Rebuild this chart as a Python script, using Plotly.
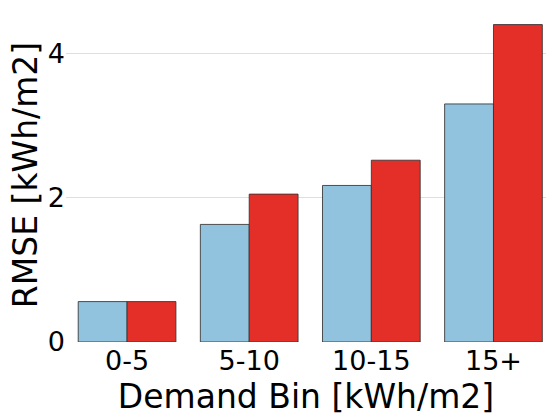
import plotly.graph_objects as go

categories = ["0-5", "5-10", "10-15", "15+"]
series_a = [0.56, 1.63, 2.17, 3.30]
series_b = [0.56, 2.05, 2.52, 4.40]
y_ticks = [0, 2, 4]

fig = go.Figure()
fig.add_trace(go.Bar(x=categories, y=series_a, name="A",
                     marker=dict(color="#92c3de", line=dict(color="rgba(50,50,50,0.85)", width=1))))
fig.add_trace(go.Bar(x=categories, y=series_b, name="B",
                     marker=dict(color="#e32f28", line=dict(color="rgba(50,50,50,0.85)", width=1))))

fig.update_layout(
    width=546, height=420,
    margin=dict(l=66, r=0, t=8, b=78),
    barmode="group", bargap=0.2, bargroupgap=0,
    showlegend=False,
    plot_bgcolor="white", paper_bgcolor="white",
    font=dict(family="DejaVu Sans", size=27, color="black"),
)
fig.update_xaxes(range=[-0.5, 3.43], title=dict(text="Demand Bin [kWh/m2]", font=dict(size=33), standoff=9),
                 showgrid=False, showline=False, ticks="", zeroline=False)
fig.update_yaxes(range=[0, 4.63], tickvals=y_ticks, title=dict(text="RMSE [kWh/m2]", font=dict(size=33), standoff=0),
                 showgrid=True, gridcolor="#dedede", gridwidth=1, zeroline=False, showline=False, ticks="")

fig.write_html("out.html")
